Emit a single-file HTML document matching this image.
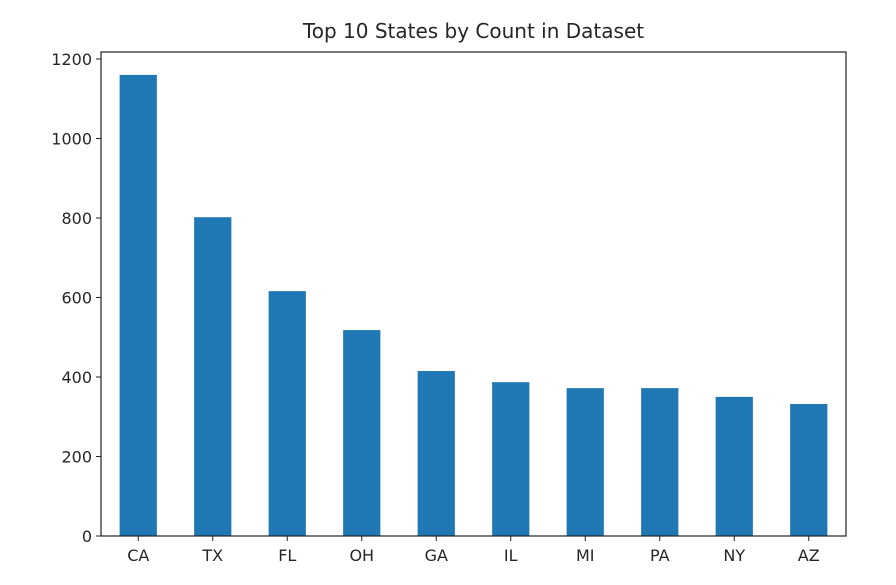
<!DOCTYPE html>
<html><head><meta charset="utf-8"><style>
body{margin:0;background:#fff;}
svg text{font-family:"DejaVu Sans","Liberation Sans",sans-serif;fill:#262626;}
</style></head><body>
<svg width="896" height="580" xmlns="http://www.w3.org/2000/svg">
<text x="473.5" y="38" text-anchor="middle" font-size="20">Top 10 States by Count in Dataset</text>
<g id="bars"></g><g id="xt"></g><g id="yt"></g>
<rect x="101" y="52" width="745" height="484" fill="none" stroke="#222" stroke-width="1.2"/>
</svg>
<script>
const categories=["CA","TX","FL","OH","GA","IL","MI","PA","NY","AZ"];
const values=[1160,802,616,518,415,387,372,372,350,332];
const yTicks=[0,200,400,600,800,1000,1200];
const L=101,R=846,B=536,ppu=79.5/200;
const step=(R-L)/categories.length;
const xc=i=>L+step*(i+0.5);
const y=v=>B-v*ppu;
const ns="http://www.w3.org/2000/svg";
const bars=document.getElementById('bars'),xt=document.getElementById('xt'),yt=document.getElementById('yt');
categories.forEach((c,i)=>{
  const r=document.createElementNS(ns,'rect');
  r.setAttribute('x',xc(i)-step/4);r.setAttribute('width',step/2);
  r.setAttribute('y',y(values[i]));r.setAttribute('height',B-y(values[i]));
  r.setAttribute('fill','#1f77b4');
  
  
  bars.appendChild(r);
  const t=document.createElementNS(ns,'line');
  t.setAttribute('x1',xc(i));t.setAttribute('x2',xc(i));t.setAttribute('y1',B);t.setAttribute('y2',B+5);t.setAttribute('stroke','#222');
  xt.appendChild(t);
  const l=document.createElementNS(ns,'text');
  l.setAttribute('x',xc(i));l.setAttribute('y',B+25);l.setAttribute('text-anchor','middle');l.setAttribute('font-size','16');
  l.textContent=c;
  
  
  xt.appendChild(l);
});
yTicks.forEach(v=>{
  const t=document.createElementNS(ns,'line');
  t.setAttribute('x1',L-5);t.setAttribute('x2',L);t.setAttribute('y1',y(v));t.setAttribute('y2',y(v));t.setAttribute('stroke','#222');
  yt.appendChild(t);
  const l=document.createElementNS(ns,'text');
  l.setAttribute('x',L-9);l.setAttribute('y',y(v)+6);l.setAttribute('text-anchor','end');l.setAttribute('font-size','16');
  l.textContent=v;
  
  
  yt.appendChild(l);
});
</script>
</body></html>
